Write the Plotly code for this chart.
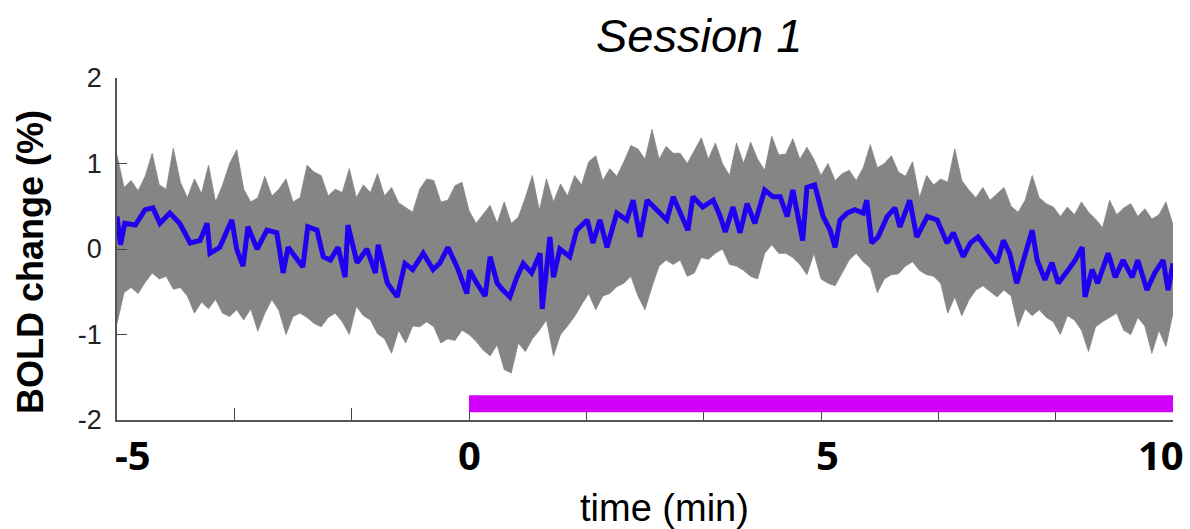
import plotly.graph_objects as go

# ---------------- data ----------------
# time grid of the grey single-trial envelope (min)
t_grid = [round(-5 + 0.1 * i, 1) for i in range(151)]

grey_upper = [
    1.10, 0.72, 0.80, 0.68, 0.85, 1.12, 0.75, 0.70, 1.18, 0.78,
    0.60, 0.82, 0.65, 0.98, 0.55, 0.75, 1.00, 1.16, 0.70, 0.55,
    0.60, 0.85, 0.62, 0.70, 0.82, 0.55, 0.60, 0.98, 0.90, 0.86,
    0.62, 0.70, 0.66, 0.94, 0.60, 0.75, 0.66, 0.88, 0.62, 0.72,
    0.54, 0.48, 0.43, 0.70, 0.82, 0.80, 0.55, 0.57, 0.74, 0.78,
    0.45, 0.30, 0.40, 0.51, 0.30, 0.55, 0.30, 0.37, 0.60, 0.86,
    0.45, 0.82, 0.55, 0.76, 0.62, 0.86, 0.75, 1.02, 1.09, 0.80,
    0.94, 0.85, 1.02, 1.21, 1.17, 1.05, 1.40, 1.05, 1.20, 1.12,
    1.12, 1.00, 1.15, 1.30, 1.05, 1.24, 1.00, 0.86, 1.24, 1.00,
    1.25, 1.05, 0.92, 1.32, 1.10, 1.11, 1.29, 1.05, 1.19, 1.05,
    0.86, 1.00, 0.80, 0.88, 0.92, 0.80, 0.95, 1.22, 0.95, 1.00,
    1.09, 0.90, 0.85, 1.02, 0.60, 0.86, 0.75, 0.82, 0.78, 1.17,
    0.80, 0.69, 0.60, 0.72, 0.57, 0.65, 0.72, 0.50, 0.43, 0.57,
    0.86, 0.60, 0.53, 0.49, 0.38, 0.49, 0.40, 0.55, 0.43, 0.35,
    0.25, 0.57, 0.40, 0.48, 0.53, 0.38, 0.47, 0.35, 0.40, 0.55,
    0.28,
]

grey_lower = [
    -0.87, -0.51, -0.45, -0.52, -0.39, -0.28, -0.35, -0.32, -0.47, -0.45,
    -0.55, -0.75, -0.62, -0.70, -0.59, -0.75, -0.79, -0.71, -0.83, -0.70,
    -0.96, -0.75, -0.59, -0.72, -1.00, -0.79, -0.75, -0.80, -0.87, -0.91,
    -0.80, -0.75, -0.85, -1.00, -0.67, -0.78, -0.83, -0.99, -1.05, -1.22,
    -0.95, -1.10, -0.90, -0.91, -0.85, -0.91, -1.10, -1.05, -1.07, -0.95,
    -1.00, -1.08, -1.18, -1.25, -1.12, -1.41, -1.45, -1.10, -1.20, -1.05,
    -0.95, -0.83, -1.25, -1.00, -0.90, -0.79, -0.65, -0.52, -0.71, -0.55,
    -0.52, -0.44, -0.40, -0.32, -0.55, -0.71, -0.44, -0.20, -0.13, -0.18,
    -0.13, -0.32, -0.28, -0.10, -0.12, -0.05, 0.00, -0.18, -0.20, -0.25,
    -0.32, -0.35, -0.05, 0.05, -0.05, -0.05, -0.10, -0.18, -0.30, -0.05,
    -0.35, -0.40, -0.43, -0.28, -0.13, -0.05, -0.15, -0.22, -0.51, -0.35,
    -0.30, -0.29, -0.20, -0.15, -0.25, -0.30, -0.32, -0.40, -0.75, -0.56,
    -0.78, -0.60, -0.48, -0.43, -0.50, -0.56, -0.48, -0.55, -0.91, -0.70,
    -0.78, -0.71, -0.80, -0.85, -1.00, -0.78, -0.83, -0.95, -1.20, -0.91,
    -0.85, -0.80, -0.75, -0.95, -1.00, -0.80, -0.90, -1.22, -0.95, -1.14,
    -0.75,
]

# mean BOLD trace (blue)
t_mean = [
    -5.00, -4.95, -4.89, -4.74, -4.60, -4.49, -4.39, -4.25, -4.11, -3.96,
    -3.82, -3.72, -3.68, -3.54, -3.37, -3.30, -3.21, -3.14, -3.01, -2.87,
    -2.73, -2.64, -2.57, -2.50, -2.36, -2.29, -2.16, -2.07, -1.97, -1.86,
    -1.76, -1.72, -1.59, -1.45, -1.33, -1.29, -1.16, -1.02, -0.91, -0.80,
    -0.65, -0.51, -0.41, -0.30, -0.17, -0.03, 0.01, 0.11, 0.23, 0.30,
    0.40, 0.48, 0.58, 0.68, 0.77, 0.89, 1.01, 1.04, 1.15, 1.20,
    1.29, 1.43, 1.53, 1.68, 1.76, 1.86, 1.96, 2.10, 2.24, 2.33,
    2.43, 2.53, 2.67, 2.81, 2.90, 3.00, 3.11, 3.18, 3.32, 3.47,
    3.57, 3.64, 3.75, 3.85, 3.95, 4.06, 4.20, 4.32, 4.42, 4.52,
    4.60, 4.74, 4.80, 4.91, 5.03, 5.13, 5.20, 5.27, 5.37, 5.48,
    5.60, 5.65, 5.72, 5.81, 5.94, 6.05, 6.12, 6.26, 6.36, 6.51,
    6.65, 6.79, 6.88, 7.02, 7.12, 7.23, 7.36, 7.50, 7.59, 7.68,
    7.78, 7.87, 8.00, 8.07, 8.18, 8.28, 8.37, 8.49, 8.61, 8.71,
    8.75, 8.85, 8.93, 9.08, 9.18, 9.29, 9.42, 9.50, 9.63, 9.74,
    9.86, 9.93, 10.00,
]
bold_mean = [
    0.38, 0.05, 0.30, 0.28, 0.46, 0.48, 0.30, 0.42, 0.30, 0.07,
    0.10, 0.30, -0.05, 0.02, 0.34, 0.00, -0.20, 0.26, 0.00, 0.22,
    0.19, -0.28, 0.02, -0.05, -0.21, 0.26, 0.22, -0.09, -0.13, 0.02,
    -0.33, 0.28, -0.16, 0.00, -0.28, 0.05, -0.40, -0.56, -0.17, -0.24,
    -0.05, -0.24, -0.16, 0.02, -0.21, -0.52, -0.25, -0.40, -0.55, -0.09,
    -0.40, -0.48, -0.56, -0.33, -0.17, -0.28, -0.05, -0.70, 0.14, -0.33,
    0.00, -0.09, 0.22, 0.34, 0.07, 0.34, 0.02, 0.42, 0.34, 0.57,
    0.14, 0.57, 0.46, 0.34, 0.61, 0.42, 0.22, 0.61, 0.49, 0.57,
    0.38, 0.20, 0.49, 0.19, 0.53, 0.30, 0.69, 0.61, 0.61, 0.38,
    0.69, 0.10, 0.72, 0.75, 0.38, 0.22, 0.02, 0.34, 0.42, 0.46,
    0.42, 0.57, 0.07, 0.14, 0.38, 0.48, 0.26, 0.57, 0.14, 0.38,
    0.34, 0.07, 0.19, -0.09, 0.07, 0.14, 0.00, -0.16, 0.10, -0.05,
    -0.40, -0.16, 0.22, -0.13, -0.36, -0.16, -0.40, -0.27, -0.13, 0.02,
    -0.56, -0.24, -0.40, -0.05, -0.33, -0.13, -0.33, -0.13, -0.48, -0.28,
    -0.13, -0.48, -0.17,
]

# stimulation period bar
stim_start, stim_end = 0, 10
stim_y_low, stim_y_high = -1.91, -1.71

y_ticks = [-2, -1, 0, 1, 2]
x_label_vals = [-5, 0, 5, 10]
x_label_text = ["-5", "0", "5", "10"]

# ---------------- figure ----------------
GREY = "#858585"
BLUE = "#2000f0"
MAGENTA = "#d000fa"

fig = go.Figure()

fig.add_trace(go.Scatter(
    x=t_grid, y=grey_lower, mode="lines",
    line=dict(color=GREY, width=0.8), hoverinfo="skip", showlegend=False))
fig.add_trace(go.Scatter(
    x=t_grid, y=grey_upper, mode="lines", fill="tonexty", fillcolor=GREY,
    line=dict(color=GREY, width=0.8), hoverinfo="skip", showlegend=False))
fig.add_trace(go.Scatter(
    x=t_mean, y=bold_mean, mode="lines",
    line=dict(color=BLUE, width=5), showlegend=False))

fig.add_shape(type="rect", xref="x", yref="y",
              x0=stim_start, x1=stim_end, y0=stim_y_low, y1=stim_y_high,
              fillcolor=MAGENTA, line=dict(width=0), layer="above")

annotations = []
label_shifts = {-5: 16, 0: 0, 5: 6, 10: -12}
for v, txt in zip(x_label_vals, x_label_text):
    annotations.append(dict(
        x=v, y=0, xref="x", yref="paper", text="<b>%s</b>" % txt,
        showarrow=False, xanchor="center", yanchor="middle",
        xshift=label_shifts[v], yshift=-34,
        font=dict(family="Open Sans, Arial", size=40, color="#000")))

annotations.append(dict(
    x=0.5, y=0, xref="paper", yref="paper", text="time (min)",
    showarrow=False, xanchor="center", yanchor="middle",
    xshift=19, yshift=-88,
    font=dict(family="Liberation Sans, Arial", size=38, color="#000")))

annotations.append(dict(
    x=0, y=0.5, xref="paper", yref="paper", text="<b>BOLD change (%)</b>",
    showarrow=False, textangle=-90, xanchor="center", yanchor="middle",
    xshift=-87, yshift=-13,
    font=dict(family="Liberation Sans, Arial", size=36, color="#000")))

annotations.append(dict(
    x=0.5, y=1, xref="paper", yref="paper", text="<i>Session 1</i>",
    showarrow=False, xanchor="center", yanchor="middle",
    xshift=54, yshift=43,
    font=dict(family="Liberation Sans, Arial", size=47, color="#000")))

fig.update_layout(
    width=1190, height=529,
    margin=dict(l=117, r=17, t=78, b=109),
    paper_bgcolor="white", plot_bgcolor="white",
    annotations=annotations,
    xaxis=dict(range=[-5, 10], tick0=0, dtick=5 / 3, ticks="inside",
               ticklen=12, tickcolor="#444", tickwidth=1,
               showticklabels=False, showgrid=False, zeroline=False,
               showline=True, linecolor="#555", linewidth=1.5),
    yaxis=dict(range=[-2, 2], tickvals=y_ticks, ticktext=[str(v) for v in y_ticks],
               ticks="inside", ticklen=10, tickcolor="#444", tickwidth=1,
               showgrid=False, zeroline=False, showline=True,
               linecolor="#555", linewidth=1.5, ticklabelstandoff=8,
               tickfont=dict(family="Liberation Sans, Arial", size=27, color="#222")),
)

fig.write_html("out.html", config={"responsive": False, "displayModeBar": False})
